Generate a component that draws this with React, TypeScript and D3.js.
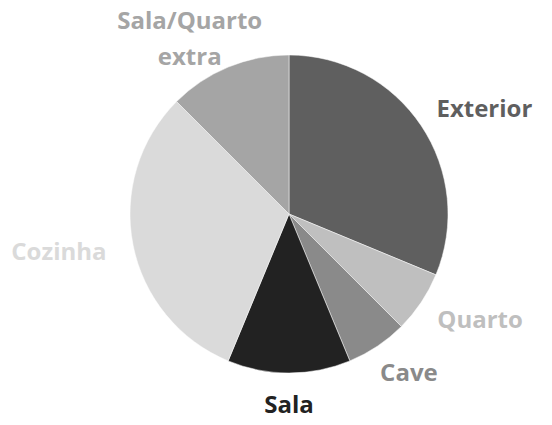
import { useEffect, useRef } from "react"
import * as d3 from "d3"

// room categories, in clockwise order from 12 o'clock
const categories = ["Exterior", "Quarto", "Cave", "Sala", "Cozinha", "Sala/Quarto extra"]
const values = [15, 3, 3, 6, 15, 6]
const sliceColors = ["#5f5f5f", "#bfbfbf", "#8a8a8a", "#222222", "#dadada", "#a5a5a5"]
// wrapped label lines
const labelLines = [["Exterior"], ["Quarto"], ["Cave"], ["Sala"], ["Cozinha"], ["Sala/Quarto", "extra"]]

interface Slice {
  name: string
  value: number
  color: string
  lines: string[]
}

const data: Slice[] = categories.map((name, i) => ({
  name,
  value: values[i],
  color: sliceColors[i],
  lines: labelLines[i],
}))

export default function App() {
  const svgRef = useRef<SVGSVGElement>(null)

  useEffect(() => {
    if (!svgRef.current) return
    d3.select(svgRef.current).selectAll("*").remove()

    const width = 552
    const height = 425
    const cx = 289
    const cy = 214
    const radius = 159
    const gapX = 28
    const gapY = 18
    const lineHeight = 36
    const fontSize = 24

    const svg = d3
      .select(svgRef.current)
      .attr("width", width)
      .attr("height", height)

    svg.append("rect").attr("width", width).attr("height", height).attr("fill", "white")

    const g = svg.append("g").attr("transform", `translate(${cx},${cy})`)

    const pie = d3
      .pie<Slice>()
      .value((d) => d.value)
      .sort(null)

    const arc = d3.arc<d3.PieArcDatum<Slice>>().innerRadius(0).outerRadius(radius)

    const arcs = pie(data)

    // slices
    g.selectAll("path")
      .data(arcs)
      .enter()
      .append("path")
      .attr("d", arc)
      .attr("fill", (d) => d.data.color)
      .attr("stroke", "white")
      .attr("stroke-width", 0.5)

    // labels outside end, pushed out by half their box
    arcs.forEach((d) => {
      const mid = (d.startAngle + d.endAngle) / 2
      const sin = Math.sin(mid)
      const cos = Math.cos(mid)

      const label = g
        .append("text")
        .attr("fill", d.data.color)
        .attr("font-family", "'Open Sans', sans-serif")
        .attr("font-weight", 700)
        .attr("font-size", `${fontSize}px`)
        .attr("text-anchor", "middle")

      d.data.lines.forEach((line, i) => {
        label
          .append("tspan")
          .attr("x", 0)
          .attr("dy", i === 0 ? 0 : lineHeight)
          .text(line)
      })

      const box = (label.node() as SVGTextElement).getBBox()
      const w = box.width
      const n = d.data.lines.length
      const px = (radius + gapX) * sin + (sin * w) / 2
      // vertical centre of the label block
      const py = -(radius + gapY) * cos - (cos * 26) / 2
      const firstBaseline = py - ((n - 1) * lineHeight) / 2 + fontSize * 0.36
      label.attr("transform", `translate(${px},${firstBaseline})`)
    })
  }, [])

  return (
    <div style={{ position: "absolute", left: 0, top: 0 }}>
      <svg ref={svgRef} style={{ display: "block" }} />
    </div>
  )
}
